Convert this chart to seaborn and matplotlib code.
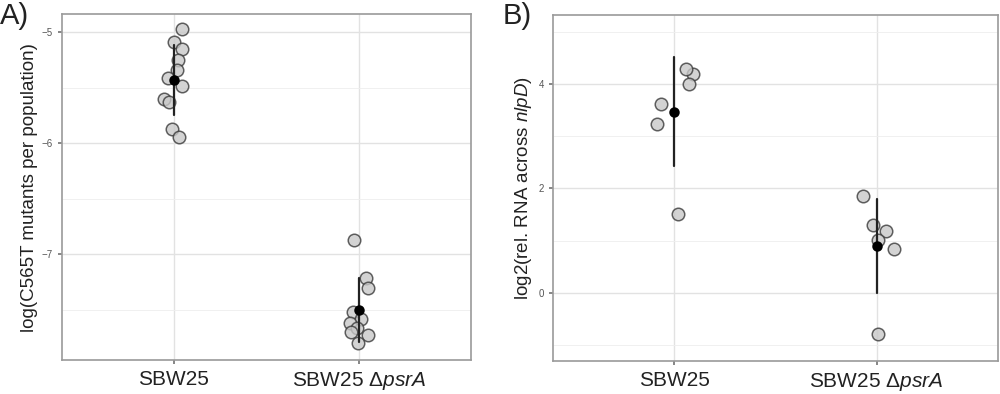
import numpy as np
import pandas as pd
import matplotlib
matplotlib.use("Agg")
import matplotlib.pyplot as plt
from matplotlib.ticker import MultipleLocator
import seaborn as sns

# strains
strains = ["SBW25", "SBW25 dpsrA"]
strain_labels = ["SBW25", r"SBW25 $\Delta\mathit{psrA}$"]

# A) log(C565T mutants per population)
mut_wt = [-4.97, -5.09, -5.15, -5.25, -5.34, -5.41, -5.49, -5.60, -5.63, -5.87, -5.94]
mut_dpsrA = [-6.87, -7.21, -7.30, -7.52, -7.58, -7.62, -7.66, -7.70, -7.72, -7.80]

# B) log2(rel. RNA across nlpD)
rna_wt = [4.19, 4.29, 4.00, 3.61, 3.23, 1.51]
rna_dpsrA = [1.86, 1.19, 1.30, 1.01, 0.84, -0.78]

df_a = pd.DataFrame({
    "strain": [strains[0]] * len(mut_wt) + [strains[1]] * len(mut_dpsrA),
    "value": mut_wt + mut_dpsrA,
})
df_b = pd.DataFrame({
    "strain": [strains[0]] * len(rna_wt) + [strains[1]] * len(rna_dpsrA),
    "value": rna_wt + rna_dpsrA,
})

sns.set_theme(style="white")
plt.rcParams["font.family"] = ["Liberation Sans", "DejaVu Sans"]
plt.rcParams["mathtext.fontset"] = "custom"
plt.rcParams["mathtext.rm"] = "Liberation Sans"
plt.rcParams["mathtext.it"] = "Liberation Sans:italic"

np.random.seed(4)

fig = plt.figure(figsize=(10, 3.94), dpi=100)
ax_a = fig.add_axes([0.062, 0.086, 0.409, 0.878])
ax_b = fig.add_axes([0.553, 0.084, 0.445, 0.878])


def panel(ax, df, jitter, ylim, major, ylabel):
    # individual replicates, then mean +/- sd on top
    sns.stripplot(data=df, x="strain", y="value", order=strains, ax=ax,
                  jitter=jitter, size=9, color="#c8c8c8", edgecolor="#3a3a3a",
                  linewidth=1.1, alpha=0.8, zorder=2)
    sns.pointplot(data=df, x="strain", y="value", order=strains, ax=ax,
                  errorbar="sd", color="black", linestyle="none", markers="o",
                  markersize=5.5, zorder=10,
                  err_kws={"linewidth": 1.6, "color": "#222222", "zorder": 9},
                  capsize=0)
    ax.set_xlim(-0.6, 1.6)
    ax.set_ylim(*ylim)
    ax.yaxis.set_major_locator(MultipleLocator(major))
    ax.yaxis.set_minor_locator(MultipleLocator(major / 2))
    ax.grid(which="major", color="#e2e2e2", linewidth=1.0)
    ax.grid(which="minor", axis="y", color="#eeeeee", linewidth=0.6)
    ax.set_axisbelow(True)
    ax.set_xticks([0, 1])
    ax.set_xticklabels(strain_labels, fontsize=15, color="#222222")
    ax.tick_params(axis="y", which="major", labelsize=7, labelcolor="#555555",
                   length=3, color="#777777", left=True)
    ax.tick_params(axis="y", which="minor", left=False)
    ax.tick_params(axis="x", length=3, color="#777777", bottom=True, pad=4)
    for s in ax.spines.values():
        s.set_color("#9a9a9a")
        s.set_linewidth(1.2)
    ax.set_xlabel("")
    ax.set_ylabel(ylabel, fontsize=13.5, color="#222222", labelpad=3)


panel(ax_a, df_a, 0.05, (-7.95, -4.84), 1.0, "log(C565T mutants per population)")
panel(ax_b, df_b, 0.1, (-1.3, 5.32), 2.0, r"log2(rel. RNA across $\mathit{nlpD}$)")

fig.text(0.0, 0.995, "A)", fontsize=21, va="top", ha="left", color="#222222")
fig.text(0.503, 0.995, "B)", fontsize=21, va="top", ha="left", color="#222222")

fig.savefig("out.png", dpi=100)
